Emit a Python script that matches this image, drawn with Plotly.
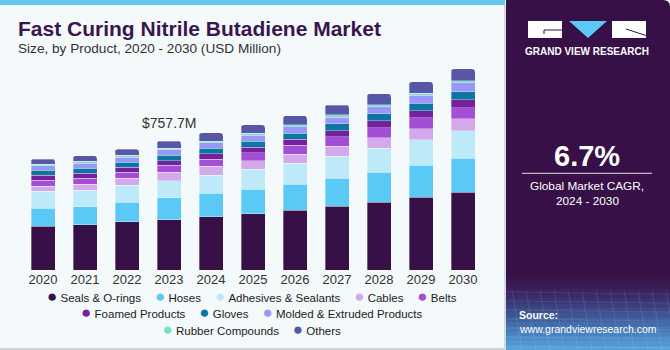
import plotly.graph_objects as go

years = ["2020", "2021", "2022", "2023", "2024", "2025", "2026", "2027", "2028", "2029", "2030"]

seals = [255.7, 265.8, 283.5, 295.3, 313.0, 330.7, 350.2, 373.8, 399.3, 428.8, 456.5]
hoses = [106.3, 106.3, 114.0, 129.9, 137.6, 143.5, 153.6, 165.4, 175.4, 187.2, 200.8]
adhesives = [100.4, 96.3, 100.4, 100.4, 106.3, 116.3, 122.3, 129.9, 141.7, 147.7, 159.5]
cables = [29.5, 35.4, 39.6, 47.2, 51.4, 50.8, 54.9, 59.1, 60.8, 66.7, 70.9]
belts = [35.4, 35.4, 37.2, 43.1, 43.1, 47.2, 53.2, 54.9, 57.3, 63.2, 65.0]
foamed = [27.8, 29.5, 27.8, 25.4, 31.3, 33.7, 33.7, 35.4, 41.3, 41.3, 47.2]
gloves = [31.3, 29.5, 31.3, 33.7, 31.9, 35.4, 35.4, 39.6, 41.3, 45.5, 47.2]
molded = [25.4, 29.5, 29.5, 31.3, 33.1, 33.7, 37.2, 39.6, 41.3, 44.9, 53.2]
rubber = [10.0, 10.0, 11.8, 10.0, 10.0, 11.8, 11.8, 13.6, 13.6, 14.2, 10.0]
others = [29.5, 33.1, 33.7, 41.4, 47.2, 49.0, 53.2, 57.3, 63.2, 65.0, 70.9]

series_names = ["Seals & O-rings", "Hoses", "Adhesives & Sealants", "Cables", "Belts",
                "Foamed Products", "Gloves", "Molded & Extruded Products",
                "Rubber Compounds", "Others"]
series_values = [seals, hoses, adhesives, cables, belts, foamed, gloves, molded, rubber, others]
series_colors = ["#361046", "#5BC9F5", "#BEE9F9", "#D4A9EC", "#A34FD5",
                 "#74209F", "#0B769F", "#9A97FB", "#77DFC9", "#5856A6"]

highlight_year = "2023"
highlight_label = "$757.7M"
cagr = "6.7%"
legend_rows = [[0, 1, 2, 3, 4], [5, 6, 7], [8, 9]]

W, H = 670, 350
L, R, T, B = 22, 484, 60, 270
K = 757.7 / 129.0  # value per pixel


def xp(px):
    return (px - L) / (R - L)


def yp(py):
    return (B - py) / (B - T)


fig = go.Figure()
for name, vals, col in zip(series_names, series_values, series_colors):
    fig.add_trace(go.Bar(
        x=years, y=vals, name=name, marker_color=col,
        marker_line=dict(width=0.6, color="rgba(255,255,255,0.55)"),
        showlegend=False,
    ))

FONT = "Liberation Sans, Arial, sans-serif"
shapes = []
shapes.append(dict(type="rect", xref="paper", yref="paper", x0=xp(0), x1=xp(505), y0=yp(350), y1=yp(0),
                   fillcolor="#F4F9FC", line=dict(width=0), layer="below"))
shapes.append(dict(type="rect", xref="paper", yref="paper", x0=xp(0), x1=xp(505), y0=yp(5), y1=yp(0),
                   fillcolor="#62C6F1", line=dict(width=0), layer="below"))
shapes.append(dict(type="rect", xref="paper", yref="paper", x0=xp(0), x1=xp(505), y0=yp(350), y1=yp(348),
                   fillcolor="#CDD2D6", line=dict(width=0), layer="below"))
shapes.append(dict(type="rect", xref="paper", yref="paper", x0=xp(504), x1=xp(506), y0=yp(350), y1=yp(5),
                   fillcolor="#D5D9DE", line=dict(width=0), layer="below"))

px0, px1, r = 506, 670, 7
path = (f"M {xp(px0)} {yp(0)} L {xp(px1 - r)} {yp(0)} "
        f"Q {xp(px1)} {yp(0)} {xp(px1)} {yp(r)} "
        f"L {xp(px1)} {yp(350)} L {xp(px0)} {yp(350)} Z")
shapes.append(dict(type="path", xref="paper", yref="paper", path=path,
                   fillcolor="#361046", line=dict(width=0)))

grad = ["#371349", "#38184f", "#381d56", "#39245e", "#3a2c68", "#3a3572", "#3b3f7d", "#3c4a88",
        "#3e5593", "#40619e", "#436daa", "#4678b5", "#4a83c0", "#4e8dca", "#5297d3", "#57a0db"]
gy0 = 275
step = (350 - gy0) / len(grad)
for i, c in enumerate(grad):
    shapes.append(dict(type="rect", xref="paper", yref="paper", x0=xp(506), x1=xp(670),
                       y0=yp(gy0 + (i + 1) * step + 0.5), y1=yp(gy0 + i * step),
                       fillcolor=c, line=dict(width=0)))
for gx in range(512, 670, 14):
    shapes.append(dict(type="line", xref="paper", yref="paper", x0=xp(gx), x1=xp(gx + 10),
                       y0=yp(290), y1=yp(350), line=dict(color="rgba(255,255,255,0.10)", width=1)))
for gyy in range(292, 350, 9):
    shapes.append(dict(type="line", xref="paper", yref="paper", x0=xp(506), x1=xp(670),
                       y0=yp(gyy), y1=yp(gyy + 2), line=dict(color="rgba(255,255,255,0.10)", width=1)))

# logo
shapes.append(dict(type="rect", xref="paper", yref="paper", x0=xp(528), x1=xp(562), y0=yp(38), y1=yp(21),
                   fillcolor="white", line=dict(width=0)))
shapes.append(dict(type="path", xref="paper", yref="paper",
                   path=f"M {xp(569)} {yp(21)} L {xp(607)} {yp(21)} L {xp(588)} {yp(38)} Z",
                   fillcolor="#5BC9F5", line=dict(width=0)))
shapes.append(dict(type="rect", xref="paper", yref="paper", x0=xp(612), x1=xp(646), y0=yp(38), y1=yp(21),
                   fillcolor="white", line=dict(width=0)))
shapes.append(dict(type="line", xref="paper", yref="paper", x0=xp(544), x1=xp(562), y0=yp(30), y1=yp(30),
                   line=dict(color="#361046", width=1)))
shapes.append(dict(type="line", xref="paper", yref="paper", x0=xp(544), x1=xp(544), y0=yp(30), y1=yp(34),
                   line=dict(color="#361046", width=1)))
shapes.append(dict(type="line", xref="paper", yref="paper", x0=xp(626), x1=xp(646), y0=yp(29), y1=yp(35.5),
                   line=dict(color="#361046", width=1)))
shapes.append(dict(type="line", xref="paper", yref="paper", x0=xp(522), x1=xp(652), y0=yp(173.3), y1=yp(173.3),
                   line=dict(color="rgba(255,255,255,0.85)", width=1)))

ann = []


def add_text(text, px, py, size, color, bold=False, xanchor="left", family=FONT):
    ann.append(dict(text=f"<b>{text}</b>" if bold else text, x=xp(px), y=yp(py), xref="paper", yref="paper",
                    xanchor=xanchor, yanchor="middle", showarrow=False,
                    font=dict(size=size, color=color, family=family)))


add_text("Fast Curing Nitrile Butadiene Market", 16, 28.5, 21, "#3A1650", bold=True)
add_text("Size, by Product, 2020 - 2030 (USD Million)", 16, 49, 13.6, "#333333")

hi = years.index(highlight_year)
ann.append(dict(text=highlight_label, x=hi, y=sum(v[hi] for v in series_values),
                xref="x", yref="y", yanchor="bottom", yshift=8, showarrow=False,
                font=dict(size=14, color="#333333", family=FONT)))

# legend: one centred multi-line text block
NB = "\u00a0"
lines = []
for row in legend_rows:
    parts = []
    for idx in row:
        parts.append(f"<span style='color:{series_colors[idx]};font-size:17px'>\u25CF</span>"
                     f"<span style='font-size:11.5px'>{NB}{series_names[idx]}</span>")
    lines.append((NB * 4).join(parts))
ann.append(dict(text="<br>".join(lines), x=xp(252), y=yp(312.9), xref="paper", yref="paper",
                xanchor="center", yanchor="middle", align="center", showarrow=False,
                font=dict(size=12.5, color="#222222", family=FONT)))

add_text("GRAND VIEW RESEARCH", 587, 51.7, 10, "white", bold=True, xanchor="center")
add_text(cagr, 587, 156, 29, "white", bold=True, xanchor="center")
add_text("Global Market CAGR,", 587, 186, 11.8, "white", xanchor="center")
add_text("2024 - 2030", 587, 201, 11.8, "white", xanchor="center")
add_text("Source:", 517, 315.3, 10.5, "white", bold=True)
add_text("www.grandviewresearch.com", 517, 329.3, 10.5, "white")

fig.update_layout(
    width=W, height=H,
    margin=dict(l=L, r=W - R, t=T, b=H - B, pad=0),
    barmode="stack", bargap=1 - 24 / 42, barcornerradius=3,
    paper_bgcolor="#F4F9FC", plot_bgcolor="rgba(0,0,0,0)",
    shapes=shapes, annotations=ann,
    xaxis=dict(type="category", range=[-0.5, len(years) - 0.5], autorange=False,
               showgrid=False, zeroline=False, showline=False, ticks="",
               tickfont=dict(size=13, color="#333333", family=FONT), fixedrange=True),
    yaxis=dict(range=[0, (B - T) * K], autorange=False, visible=False, fixedrange=True),
    font=dict(family=FONT),
)

fig.write_html("out.html")
